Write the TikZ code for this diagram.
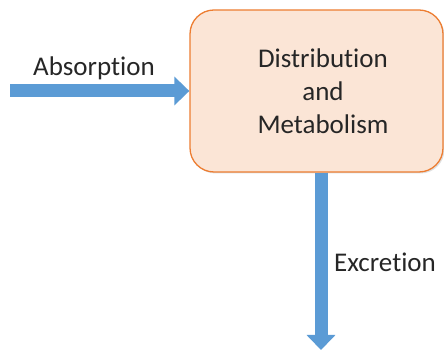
\documentclass[tikz,border=0pt]{standalone}
\usepackage{fontspec}
\setmainfont{Carlito}[Ligatures=NoCommon]
\usetikzlibrary{arrows.meta}
\definecolor{peach}{HTML}{FBE5D6}
\definecolor{rim}{HTML}{ED7D31}
\definecolor{flow}{HTML}{5B9BD5}
\begin{document}
\begin{tikzpicture}[x=1pt,y=1pt,
  stage/.style={draw=rim, line width=1.3pt, fill=peach, rounded corners=24pt,
    minimum width=253pt, minimum height=162pt, inner sep=0pt},
  shade/.style={fill=black!25, opacity=0.5, rounded corners=24pt,
    minimum width=253pt, minimum height=162pt, inner sep=0pt},
  flowarrow/.style={draw=flow, line width=13pt,
    -{Triangle[width=28pt,length=15pt]}},
  lbl/.style={font=\fontsize{27}{33}\selectfont, text=black!85, inner sep=0pt}]
  \useasboundingbox (0,0) rectangle (444,350);
  % soft drop shadow behind the box
  \node[shade] at (318,257.5) {};
  \node[stage] (dm) at (316.5,259) {};
  \node[lbl, align=center] (dmtext) at (323,259)
    {Distribution\\and\\Metabolism};
  % inflow and outflow
  \coordinate (src) at (10,259);
  \coordinate (sink) at (321,0);
  \draw[flowarrow] (src) -- (dm.west);
  \draw[flowarrow] (dm.south -| sink) -- (sink);
  \node[lbl] (abs) at (94,282) {Absorption};
  \node[lbl, anchor=west] (exc) at (334,88) {Excretion};
\end{tikzpicture}
\end{document}
